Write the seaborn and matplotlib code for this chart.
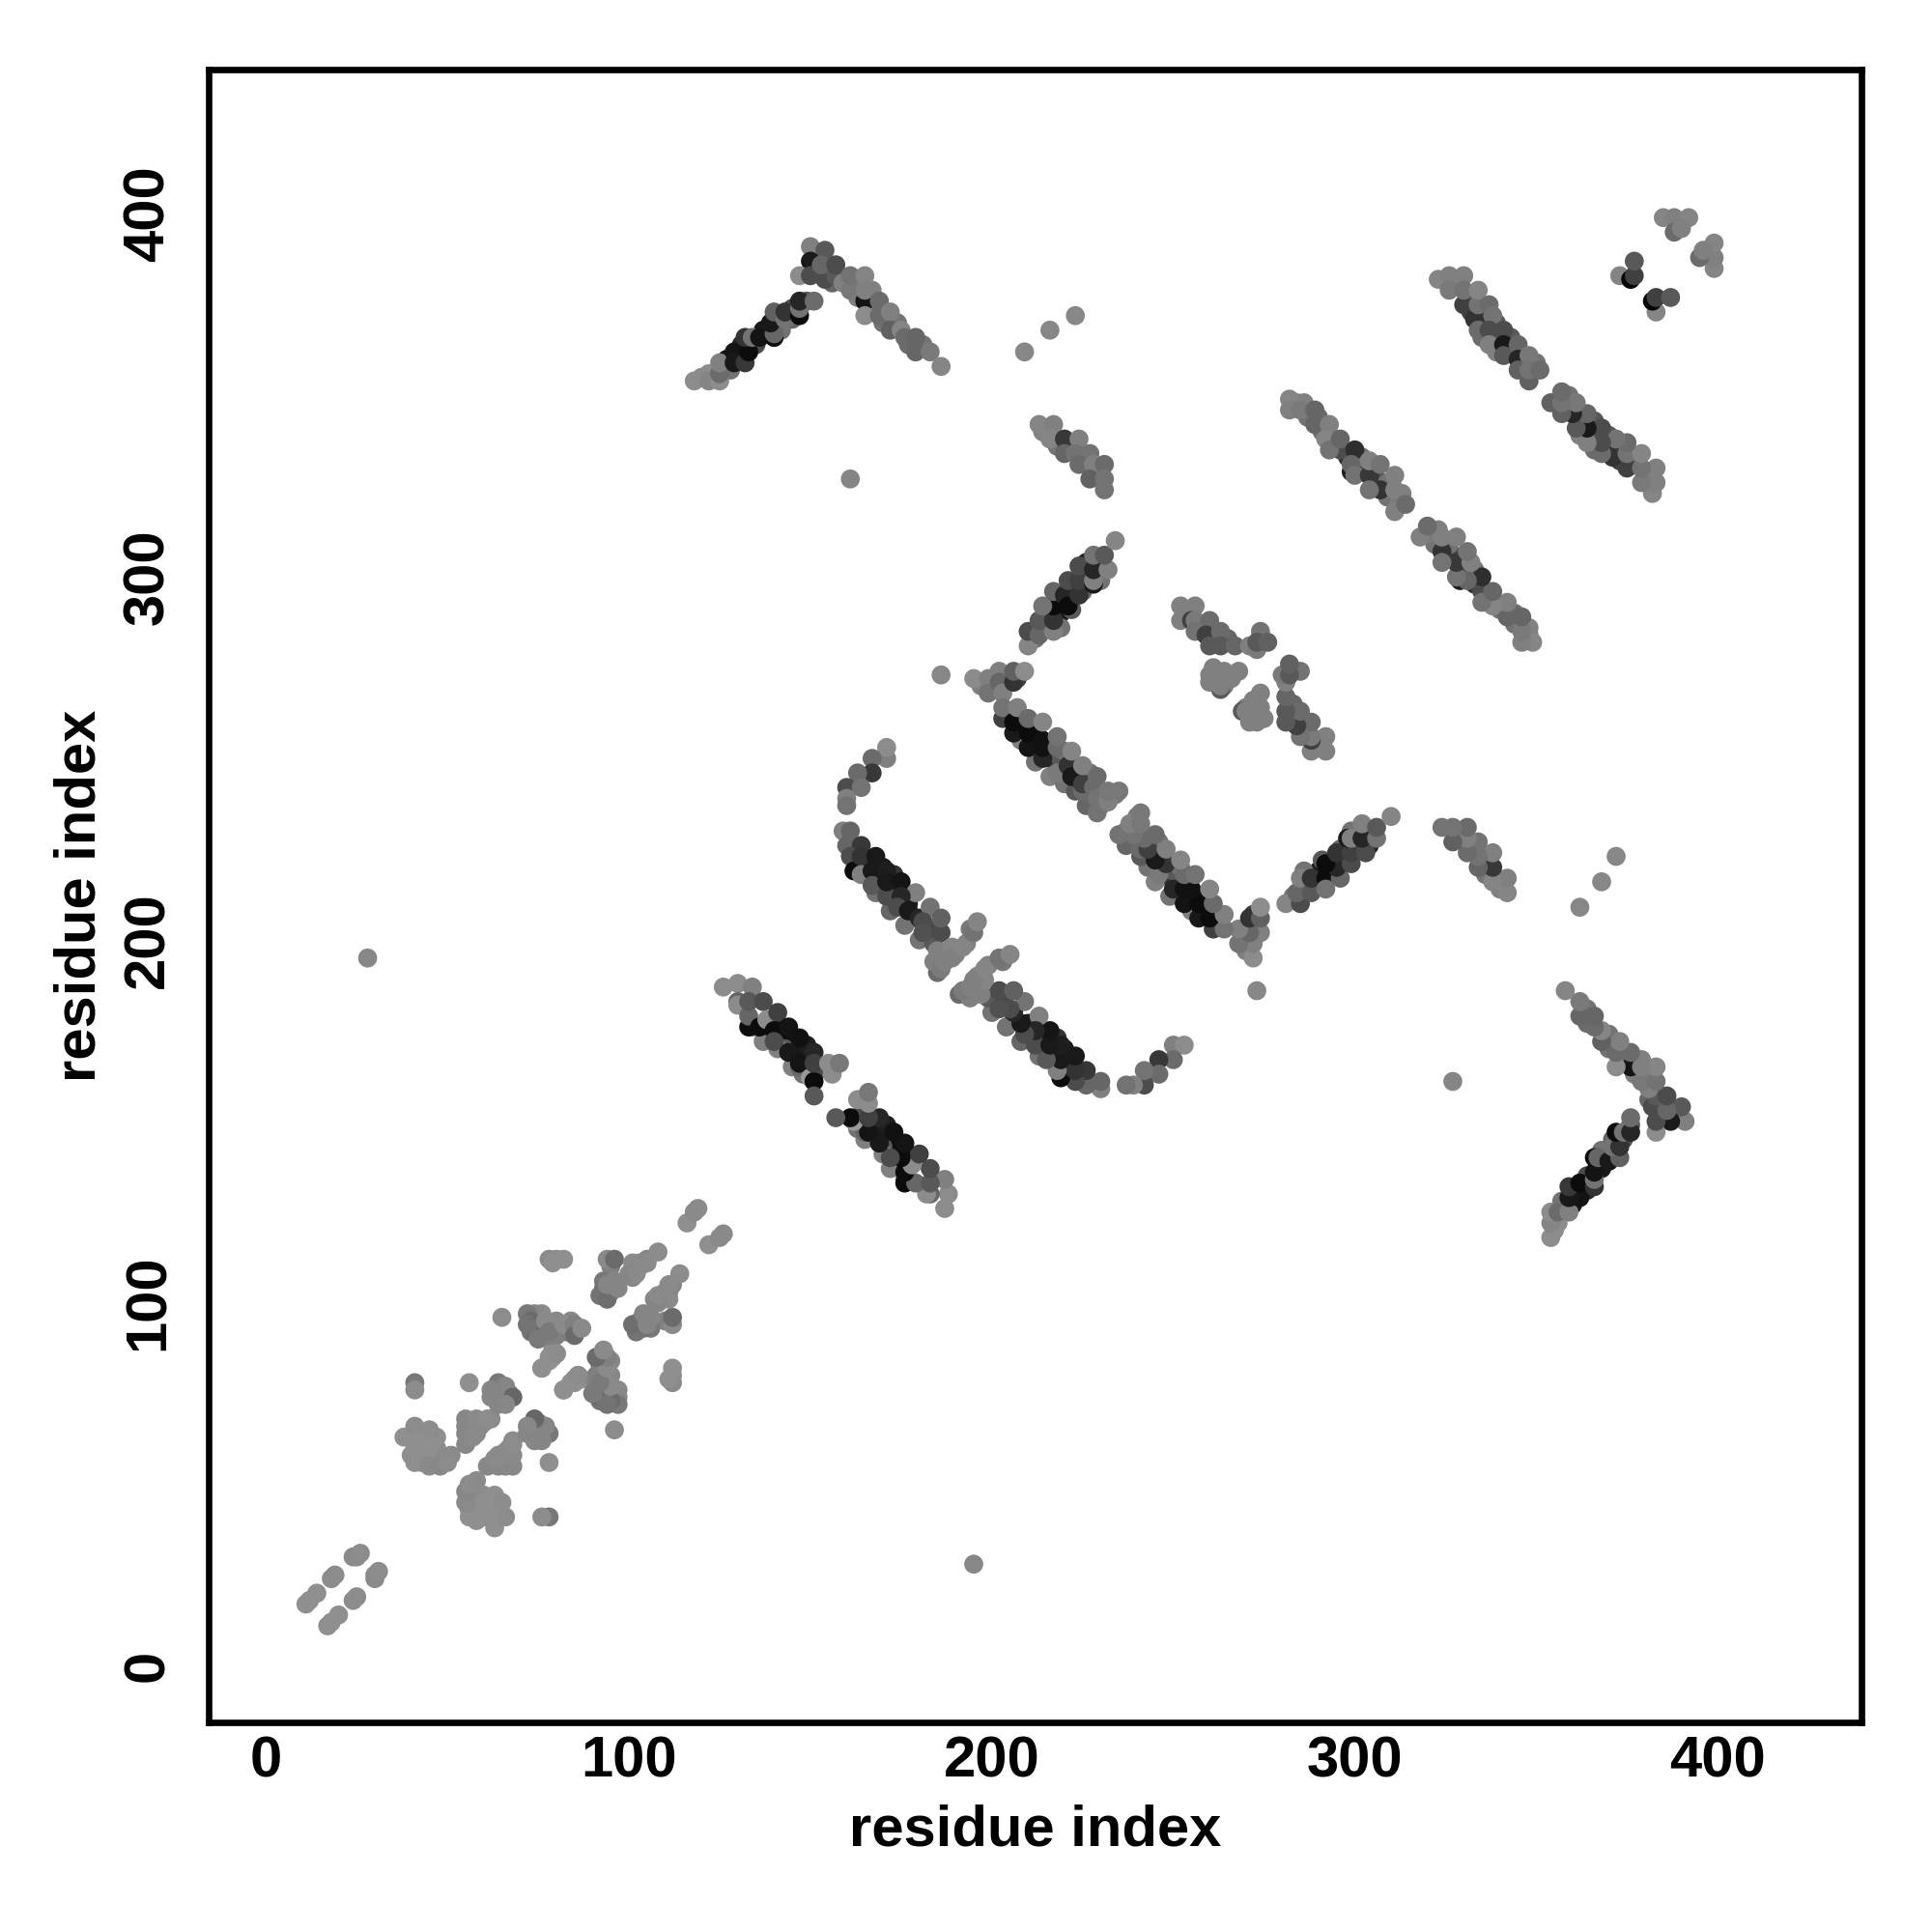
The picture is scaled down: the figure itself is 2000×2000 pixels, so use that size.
"""Residue contact map: grey level shows how strong each contact is."""

import matplotlib

matplotlib.use("Agg")
import matplotlib.pyplot as plt
import pandas as pd
import seaborn as sns

# Contacts as (residue i, residue j, grey level), i < j. The map is symmetric.
start_pairs = [
    (11, 17, .56), (12, 18, .56), (14, 20, .56), (18, 24, .55), (19, 25, .55),
    (24, 30, .54), (25, 30, .54), (26, 31, .55),
]
cluster_low = [
    (40, 58, .56), (43, 58, .56), (43, 56, .55), (46, 57, .55), (47, 60, .55),
    (47, 63, .56), (49, 57, .54), (44, 63, .56), (57, 66, .54),
    (56, 63, .53), (58, 64, .54), (60, 67, .54),
    (62, 68, .54), (55, 66, .53),
    (38, 63, .56), (41, 66, .55), (45, 65, .55), (41, 60, .56), (41, 56, .56),
    (45, 60, .56), (45, 55, .54), (42, 62, .56), (48, 55, .53), (51, 58, .54),
    (50, 56, .55), (55, 68, .53), (55, 64, .53), (55, 61, .53), (58, 68, .54),
    (59, 66, .54), (61, 68, .55), (57, 63, .54),
]
cluster_mid = [
    (64, 75, .5), (65, 76, .5), (67, 75, .48), (64, 72, .52), (62, 74, .53),
    (73, 92, .46), (74, 94, .44), (75, 93, .46), (76, 92, .48), (76, 97, .54),
    (74, 97, .53), (80, 92, .53), (80, 95, .53), (83, 92, .48), (84, 95, .53),
    (79, 87, .55), (79, 85, .55), (80, 91, .5), (75, 91, .5), (78, 91, .5),
    (41, 78, .47), (41, 76, .55), (56, 78, .56), (64, 78, .47), (62, 76, .52),
    (66, 77, .52), (63, 75, .52), (65, 73, .52), (68, 74, .4), (66, 72, .53),
    (65, 96, .55), (72, 97, .47), (73, 95, .42), (74, 92, .42), (72, 94, .45),
    (75, 90, .48), (77, 95, .54), (78, 92, .48), (82, 94, .54), (85, 94, .5),
    (85, 91, .42), (87, 93, .54), (76, 82, .55), (78, 85, .56), (80, 86, .55),
    (76, 82, .56), (78, 84, .56), (80, 86, .55),
]
cluster_high = [
    (80, 112, .56), (95, 110, .5), (93, 106, .47), (92, 102, .45), (95, 103, .47),
    (96, 106, .52), (102, 109, .53), (103, 111, .54), (100, 108, .53), (101, 107, .53),
    (103, 110, .53),
    (78, 112, .54), (79, 111, .56), (82, 112, .56), (94, 112, .54), (96, 112, .42),
    (93, 104, .45), (94, 101, .43), (94, 105, .52), (97, 104, .52), (101, 111, .54),
    (101, 108, .52), (102, 108, .54), (105, 112, .52), (105, 111, .54), (108, 114, .55),
    (116, 122, .56), (118, 125, .54), (119, 126, .54),
]
strand_a_inner = [
    (138, 176, .1), (142, 173, .06), (142, 176, .05), (145, 171, .06), (146, 169, .08),
    (149, 168, .1), (149, 171, .12), (143, 170, .35), (137, 172, .5), (141, 170, .5),
    (145, 165, .5), (134, 176, .45), (133, 176, .05), (148, 163, .45), (152, 164, .3),
]
strand_a = [
    (126, 187, .55), (130, 188, .55), (130, 183, .4), (130, 182, .55), (134, 187, .5),
    (133, 179, .4), (133, 183, .35), (137, 183, .3), (136, 176, .05), (138, 178, .55),
    (141, 180, .25), (140, 175, .05), (140, 172, .3), (144, 176, .08), (144, 169, .1),
    (147, 173, .07), (147, 165, .4), (147, 166, .08), (151, 169, .15), (150, 162, .6),
    (151, 161, .05), (151, 166, .25), (151, 157, .35), (155, 166, .55), (156, 163, .55),
    (158, 166, .47),
]
strand_b_arm = [
    (171, 250, .5), (171, 253, .55), (167, 250, .42), (167, 246, .22), (163, 246, .42),
    (160, 242, .3), (164, 242, .45), (160, 239, .5), (160, 237, .45),
]
strand_b_inner = [
    (165, 221, .1), (169, 217, .1), (173, 214, .15), (176, 211, .2), (178, 206, .3),
    (163, 220, .5), (168, 213, .45), (172, 208, .4), (176, 204, .45), (180, 200, .45),
    (184, 199, .35), (182, 203, .28), (166, 222, .15), (170, 220, .1), (173, 218, .2),
    (177, 210, .12), (188, 197, .5), (186, 193, .5), (190, 196, .52),
    (193, 199, .5), (194, 203, .47),
]
strand_b = [
    (159, 230, .5), (161, 230, .4), (160, 226, .4), (164, 226, .22), (161, 223, .3),
    (162, 219, .05), (164, 223, .2), (168, 223, .1), (164, 218, .5), (167, 219, .1),
    (171, 219, .12), (167, 215, .35), (171, 212, .3), (171, 216, .1), (175, 216, .08),
    (179, 213, .5), (175, 212, .15), (174, 209, .3), (177, 208, .1), (180, 206, .15),
    (183, 209, .45), (181, 205, .3), (181, 202, .32), (186, 202, .3), (186, 206, .38),
    (185, 191, .42), (184, 194, .5), (185, 197, .5), (186, 192, .48), (187, 194, .5),
    (189, 198, .52), (189, 195, .5), (192, 198, .52), (195, 202, .45), (196, 205, .52),
]
strand_c_inner = [
    (208, 259, .08), (212, 256, .06), (212, 252, .1), (216, 254, .1), (216, 250, .2),
    (219, 250, .35), (205, 262, .3), (208, 255, .5), (212, 249, .45), (216, 245, .5),
    (220, 243, .45), (223, 241, .35), (226, 237, .4), (230, 237, .45),
    (234, 240, .48), (227, 246, .45), (220, 252, .45), (197, 270, .5),
    (201, 269, .45), (204, 272, .35), (207, 272, .25),
]
strand_c = [
    (186, 273, .53), (195, 272, .55), (199, 272, .5), (199, 268, .45), (202, 274, .5),
    (202, 271, .4), (203, 268, .5), (206, 271, .2), (206, 274, .38), (209, 274, .55),
    (203, 261, .25), (203, 264, .45), (206, 257, .1), (206, 260, .05), (207, 264, .5),
    (210, 253, .08), (210, 257, .05), (210, 261, .42), (214, 250, .15), (214, 253, .07),
    (214, 255, .07), (214, 260, .52), (218, 246, .48), (218, 253, .42), (218, 256, .45),
    (221, 248, .2), (222, 245, .1), (222, 252, .52), (225, 241, .42), (225, 243, .25),
    (225, 248, .5), (229, 245, .42), (228, 242, .42), (229, 235, .45), (229, 239, .45),
    (232, 238, .5), (232, 241, .47), (235, 241, .47),
]
strand_d_inner = [
    (215, 287, .1), (219, 290, .1), (220, 293, .08), (223, 297, .15), (226, 300, .15),
    (216, 290, .35), (219, 286, .45), (222, 291, .35), (225, 296, .4), (229, 303, .3),
    (230, 299, .45), (212, 283, .45), (214, 286, .3), (226, 304, .15),
]
strand_d = [
    (210, 281, .52), (210, 285, .3), (213, 284, .4), (217, 285, .5), (213, 288, .35),
    (217, 288, .2), (217, 292, .05), (214, 292, .45), (217, 296, .4), (220, 295, .15),
    (221, 292, .05), (221, 299, .3), (224, 295, .2), (224, 299, .25), (224, 303, .3),
    (228, 298, .1), (228, 299, .5), (228, 302, .15), (228, 306, .45), (232, 302, .5),
    (231, 306, .35), (234, 310, .52),
]
strand_e = [
    (258, 286, .4), (261, 283, .4), (265, 283, .4), (253, 290, .5), (262, 272, .48),
    (261, 275, .5), (264, 270, .5),
    (252, 292, .5), (256, 292, .5), (252, 288, .5), (255, 288, .25), (256, 288, .48),
    (260, 288, .42), (256, 285, .45), (259, 284, .25), (263, 285, .42), (260, 281, .35),
    (263, 281, .35), (267, 281, .4), (271, 281, .5), (274, 285, .45), (273, 280, .48),
    (273, 282, .35), (276, 282, .38), (263, 269, .35), (260, 273, .5), (260, 271, .5),
    (263, 270, .5), (264, 274, .5), (266, 272, .5), (268, 274, .5),
]
strand_f_inner = [
    (287, 344, .45), (291, 340, .45), (294, 337, .35), (298, 333, .2), (301, 330, .3),
    (302, 333, .45), (305, 329, .35), (306, 327, .3), (309, 326, .45), (313, 323, .5),
    (309, 322, .45), (312, 320, .48), (286, 348, .5), (284, 348, .5), (290, 344, .42),
]
strand_f = [
    (282, 349, .52), (282, 346, .5), (285, 346, .48), (289, 346, .4), (289, 342, .4),
    (293, 342, .5), (292, 338, .52), (296, 335, .3), (293, 335, .45), (296, 338, .4),
    (300, 335, .18), (299, 329, .12), (299, 331, .4), (300, 328, .45), (304, 328, .22),
    (304, 332, .5), (307, 324, .2), (304, 324, .45), (307, 331, .45), (311, 328, .5),
    (311, 324, .5), (311, 318, .5), (314, 320, .42),
]
strand_g_inner = [
    (328, 381, .5), (332, 377, .4), (332, 373, .25), (335, 372, .35), (336, 371, .2),
    (339, 370, .35), (339, 366, .35), (343, 362, .2), (343, 366, .35), (346, 359, .3),
    (347, 359, .42), (350, 359, .45), (335, 366, .42), (339, 362, .5),
]
strand_g = [
    (323, 382, .52), (326, 383, .5), (330, 383, .5), (326, 379, .48), (330, 375, .25),
    (330, 379, .45), (333, 371, .2), (334, 375, .45), (334, 379, .52), (337, 375, .42),
    (338, 372, .45), (334, 368, .42), (337, 368, .3), (341, 368, .3), (337, 364, .5),
    (341, 364, .1), (341, 361, .35), (345, 364, .4), (345, 360, .15), (345, 357, .38),
    (348, 361, .47), (348, 354, .38), (348, 357, .45), (351, 357, .42),
]
end_contacts = [
    (373, 383, .52), (376, 382, .02), (377, 383, .25), (377, 387, .35), (385, 399, .52),
    (388, 399, .5), (392, 399, .52), (388, 395, .42), (390, 396, .5),
]
arc_inner = [
    (127, 360, .1), (127, 357, .4), (130, 361, .05), (135, 364, .3), (137, 368, .1),
    (141, 371, .25), (145, 374, .3), (149, 376, .35), (131, 364, .15), (128, 357, .45),
    (120, 355, .55), (142, 368, .45), (145, 371, .4), (152, 388, .35), (152, 384, .15),
    (155, 385, .25), (156, 381, .4), (163, 381, .5), (163, 377, .5), (167, 374, .45),
    (170, 370, .45), (174, 370, .45), (177, 364, .42), (181, 364, .45), (167, 379, .5),
    (158, 383, .4),
]
arc_rise = [
    (118, 354, .55), (122, 356, .55), (122, 354, .52), (125, 354, .55), (125, 356, .42),
    (125, 359, .5), (129, 362, .08), (129, 359, .1), (132, 359, .22), (133, 362, .05),
    (132, 366, .2), (134, 366, .45), (136, 366, .08), (140, 366, .05), (140, 367, .4),
    (139, 370, .1), (140, 373, .38), (143, 371, .45), (143, 373, .2), (147, 372, .05),
    (147, 374, .45), (147, 376, .15), (151, 376, .42),
]
arc_fall = [
    (150, 391, .5), (154, 390, .35), (150, 387, .1), (147, 383, .55), (150, 383, .3),
    (154, 382, .3), (153, 386, .4), (157, 383, .35), (157, 386, .3), (159, 381, .5),
    (161, 379, .47), (161, 383, .45), (165, 383, .52), (165, 376, .08), (165, 379, .5),
    (165, 372, .55), (169, 372, .42), (169, 376, .42), (172, 373, .5), (172, 368, .38),
    (175, 368, .52), (176, 366, .42), (179, 366, .4), (179, 362, .4), (183, 362, .48),
    (186, 358, .52),
]
patch_upper = [
    (214, 340, .5), (218, 336, .45), (222, 336, .45), (226, 332, .45), (229, 329, .45),
    (213, 342, .52), (217, 342, .5), (216, 338, .52), (220, 338, .22), (224, 338, .5),
    (220, 334, .4), (223, 334, .45), (227, 334, .45), (224, 331, .42), (228, 331, .5),
    (231, 331, .42), (227, 327, .38), (231, 327, .45), (231, 324, .45),
]
lone_contacts = [
    (28, 195, .53), (161, 327, .52), (209, 362, .53), (216, 368, .53), (223, 372, .53),
]

segments = [
    start_pairs, cluster_low, cluster_mid, cluster_high,
    strand_a_inner, strand_a, strand_b_arm, strand_b_inner, strand_b,
    strand_c_inner, strand_c, strand_d_inner, strand_d, strand_e,
    strand_f_inner, strand_f, strand_g_inner, strand_g, end_contacts,
    arc_inner, arc_rise, arc_fall, patch_upper, lone_contacts,
]
tick_values = [0, 100, 200, 300, 400]

upper = pd.DataFrame(
    [row for segment in segments for row in segment], columns=["i", "j", "shade"]
)
lower = upper.rename(columns={"i": "j", "j": "i"})
contacts = pd.concat([upper, lower], ignore_index=True)

sns.set_theme(style="white")
plt.rcParams["font.family"] = ["Liberation Sans", "DejaVu Sans"]
plt.rcParams["font.weight"] = "bold"

fig = plt.figure(figsize=(10, 10), dpi=200)
ax = fig.add_axes([0.108, 0.1085, 0.8555, 0.8555])

sns.scatterplot(
    data=contacts,
    x="i",
    y="j",
    hue="shade",
    palette="gray",
    hue_norm=(0, 1),
    s=50,
    linewidth=0,
    legend=False,
    ax=ax,
)

ax.set_xlim(-15.8, 439.6)
ax.set_ylim(-15.6, 439.8)
ax.set_xticks(tick_values)
ax.set_yticks(tick_values)
ax.tick_params(axis="x", length=3, width=1, color="black", labelsize=21.5, pad=2, labelcolor="black")
ax.tick_params(axis="y", length=3, width=1, color="black", labelsize=21.5, pad=9.5, labelcolor="black")
for label in ax.get_yticklabels():
    label.set_rotation(90)
    label.set_va("center")

ax.set_xlabel("residue index", fontsize=21.5, fontweight="bold", color="black", labelpad=5.5)
ax.set_ylabel("residue index", fontsize=21.5, fontweight="bold", color="black", labelpad=5.5)

for spine in ax.spines.values():
    spine.set_color("black")
    spine.set_linewidth(2.4)

fig.savefig("out.png", dpi=200, facecolor="white")
